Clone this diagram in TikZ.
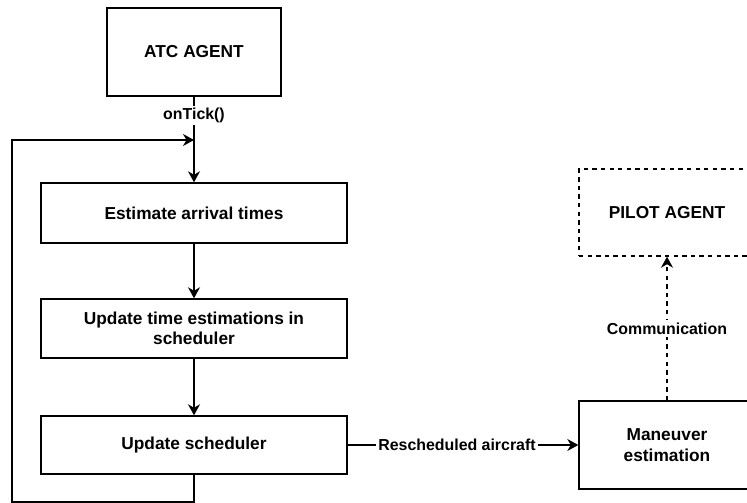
\documentclass[tikz,border=0pt]{standalone}
\usepackage{fontspec}
\setmainfont{Liberation Sans}
\usetikzlibrary{arrows.meta}
\begin{document}
\begin{tikzpicture}[x=1pt,y=-1pt,
  box/.style={draw, line width=1.4pt, align=center, inner sep=0pt,
    font=\fontsize{17.3}{20.5}\selectfont\bfseries},
  dbox/.style={box, dash pattern=on 4.3pt off 4.3pt},
  lbl/.style={fill=white, inner sep=2.5pt, font=\fontsize{15.9}{18}\selectfont\bfseries},
  arr/.style={line width=1.4pt, -{Stealth[length=11pt,width=12pt,inset=3.5pt]}},
  ln/.style={line width=1.4pt}]
\useasboundingbox (0,0) rectangle (747,503);
\clip (0,0) rectangle (747,503);
\fill[white] (0,0) rectangle (747,503);

\node[box, minimum width=174pt, minimum height=88pt] (atc) at (194,52) {ATC AGENT};
\node[box, minimum width=306pt, minimum height=60pt] (est) at (194,213) {Estimate arrival times};
\node[box, minimum width=306pt, minimum height=59pt] (upd) at (194,328.5) {Update time estimations in\\scheduler};
\node[box, minimum width=306pt, minimum height=58pt] (sch) at (194,445) {Update scheduler};
\node[box, minimum width=176pt, minimum height=88pt] (man) at (667,445) {Maneuver\\estimation};
\node[dbox, minimum width=176pt, minimum height=87pt] (pil) at (667,212.5) {PILOT AGENT};

\coordinate (j) at (194,140);
\coordinate (lb) at (12,502);

\draw[arr] (atc.south) -- node[lbl, pos=0.22] {onTick()} (est.north);
\draw[arr] (est.south) -- (upd.north);
\draw[arr] (upd.south) -- (sch.north);
\draw[arr] (sch.south) |- (lb) |- (j);
\draw[arr] (sch.east) -- node[lbl, pos=0.474] {Rescheduled aircraft} (man.west);
\draw[arr, dash pattern=on 4.3pt off 4.3pt] (man.north) -- node[lbl] {Communication} (pil.south);
\end{tikzpicture}
\end{document}
